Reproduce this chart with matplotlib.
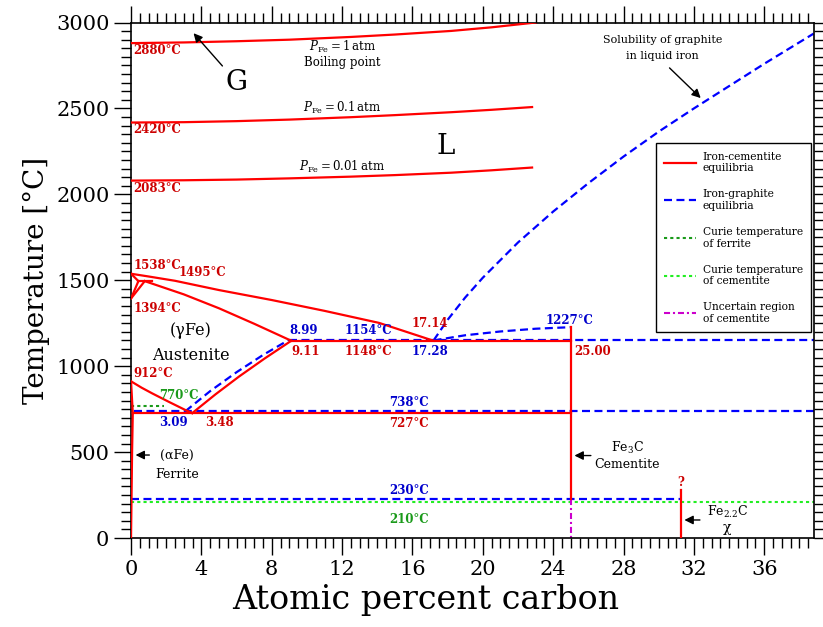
import numpy as np
import matplotlib.pyplot as plt
from matplotlib.ticker import MultipleLocator
from matplotlib.lines import Line2D

plt.rcParams['font.family'] = 'DejaVu Serif'
plt.rcParams['mathtext.fontset'] = 'dejavuserif'

RED = '#ff0000'
BLUE = '#0000ff'
DKRED = '#cc0000'
DKBLUE = '#0000cc'
GREEN = '#1a9a1a'
LIME = '#22ee22'
MAG = '#cc00cc'

# --- vapour pressure curves (at% C, deg C)
p1_x = [0, 3, 6, 9, 12.5, 15, 18.2, 20.5, 23]
p1_t = [2880, 2884, 2891, 2900, 2916, 2930, 2951, 2972, 3000]
p01_x = [0, 3, 6, 9, 12.5, 15, 18.2, 20.5, 22.8]
p01_t = [2418, 2420, 2426, 2435, 2449, 2461, 2478, 2492, 2508]
p001_x = [0, 3, 6, 9, 12.5, 15, 18.2, 20.5, 22.8]
p001_t = [2080, 2082, 2086, 2093, 2103, 2112, 2126, 2140, 2156]

# --- iron-cementite (metastable) system
liq_x = [0, 1.0, 2.5, 5.0, 8.0, 11.0, 14.1, 17.2]
liq_t = [1538, 1522, 1497, 1443, 1385, 1322, 1252, 1148]
sol_d_x = [0, 0.42]
sol_d_t = [1538, 1495]
delta_x = [0, 0.42]
delta_t = [1394, 1495]
gam_x = [0, 0.78]
gam_t = [1394, 1495]
peri_x = [0.42, 1.2]
peri_t = [1495, 1495]
sol_g_x = [0.78, 3.0, 5.0, 7.0, 9.11]
sol_g_t = [1495, 1418, 1337, 1247, 1148]
a3_x = [0, 0.6, 1.2, 2.14, 3.09, 3.48]
a3_t = [912, 875, 842, 793, 745, 727]
acm_x = [3.48, 4.8, 6.13, 7.6, 9.11]
acm_t = [727, 836, 939, 1045, 1148]
alpha_x = [0.1, 0.06, 0.03, 0]
alpha_t = [727, 500, 250, 0]
ag_x = [0, 0.1]
ag_t = [912, 727]
eut_x = [9.11, 25.0]
eut_t = [1148, 1148]
eutd_x = [0.1, 25.0]
eutd_t = [727, 727]
cem_x = [25.0, 25.0]
cem_t = [1227, 230]
chi_x = [31.25, 31.25]
chi_t = [0, 280]

# --- iron-graphite (stable) system
g_liq_x = [17.2, 18, 19, 20, 22, 24, 26, 28, 30, 32, 34, 36, 38.8]
g_liq_t = [1150, 1270, 1400, 1515, 1720, 1900, 2065, 2220, 2365, 2500, 2630, 2760, 2935]
fe3c_liq_x = [17.2, 19, 21, 23, 25.0]
fe3c_liq_t = [1150, 1180, 1202, 1218, 1227]
g_acm_x = [3.09, 4.5, 6.0, 7.5, 8.99]
g_acm_t = [738, 855, 965, 1065, 1154]
g_eut_x = [8.99, 38.8]
g_eut_t = [1154, 1154]
g_eutd_x = [0.15, 38.8]
g_eutd_t = [738, 738]
g_230_x = [0, 31.25]
g_230_t = [230, 230]

# --- magnetic transitions and uncertain region
curie_fe_x = [0, 1.9]
curie_fe_t = [770, 770]
curie_cem_x = [0, 38.8]
curie_cem_t = [210, 210]
unc_x = [25.0, 25.0]
unc_t = [230, 0]

fig = plt.figure(figsize=(8.23, 6.27), dpi=100)
ax = fig.add_axes([0.1592, 0.1419, 0.9885 - 0.1592, 0.9641 - 0.1419])

lw = 1.6
for xs, ts in [(p1_x, p1_t), (p01_x, p01_t), (p001_x, p001_t), (liq_x, liq_t),
               (sol_d_x, sol_d_t), (delta_x, delta_t), (gam_x, gam_t), (peri_x, peri_t),
               (sol_g_x, sol_g_t), (a3_x, a3_t), (acm_x, acm_t), (alpha_x, alpha_t),
               (ag_x, ag_t), (eut_x, eut_t), (eutd_x, eutd_t), (cem_x, cem_t), (chi_x, chi_t)]:
    ax.plot(xs, ts, color=RED, lw=lw, zorder=3)

dash = (0, (3.6, 2))
dot = (0, (1.5, 1.5))
dashdot = (0, (2.9, 1.4, 1, 1.4))
for xs, ts in [(g_liq_x, g_liq_t), (fe3c_liq_x, fe3c_liq_t), (g_acm_x, g_acm_t),
               (g_eut_x, g_eut_t), (g_eutd_x, g_eutd_t), (g_230_x, g_230_t)]:
    ax.plot(xs, ts, color=BLUE, lw=lw, ls=dash, zorder=2)

ax.plot(curie_fe_x, curie_fe_t, color=GREEN, lw=1.5, ls=dot, zorder=2)
ax.plot(curie_cem_x, curie_cem_t, color=LIME, lw=1.5, ls=dot, zorder=2)
ax.plot(unc_x, unc_t, color=MAG, lw=1.5, ls=dashdot, zorder=2)

ax.set_xlim(0, 38.8)
ax.set_ylim(0, 3000)
ax.xaxis.set_major_locator(MultipleLocator(4))
ax.xaxis.set_minor_locator(MultipleLocator(0.5))
ax.yaxis.set_major_locator(MultipleLocator(500))
ax.yaxis.set_minor_locator(MultipleLocator(50))
ax.tick_params(which='both', direction='out', top=True, right=True, labelsize=15, width=1)
ax.tick_params(which='major', length=12)
ax.tick_params(which='minor', length=7.5)
for s in ax.spines.values():
    s.set_linewidth(1.2)
ax.set_xlabel('Atomic percent carbon', fontsize=24, x=0.431, labelpad=4)
ax.set_ylabel('Temperature [°C]', fontsize=20)

# temperature / composition labels
small = dict(fontsize=8.5, fontweight='bold')
def lab(x, y, s, c, **kw):
    ax.text(x, y, s, color=c, va='center', **small, **kw)

lab(0.15, 2835, '2880°C', DKRED)
lab(0.15, 2375, '2420°C', DKRED)
lab(0.15, 2035, '2083°C', DKRED)
lab(0.15, 1585, '1538°C', DKRED)
lab(2.7, 1545, '1495°C', DKRED)
lab(0.15, 1335, '1394°C', DKRED)
lab(0.15, 955, '912°C', DKRED)
lab(1.6, 830, '770°C', GREEN)
lab(1.6, 670, '3.09', DKBLUE)
lab(4.2, 670, '3.48', DKRED)
lab(9.0, 1205, '8.99', DKBLUE)
lab(13.5, 1205, '1154°C', DKBLUE, ha='center')
lab(9.1, 1088, '9.11', DKRED)
lab(13.5, 1088, '1148°C', DKRED, ha='center')
lab(17.0, 1250, '17.14', DKRED, ha='center')
lab(17.0, 1088, '17.28', DKBLUE, ha='center')
lab(24.9, 1268, '1227°C', DKBLUE, ha='center')
lab(25.2, 1088, '25.00', DKRED)
lab(15.8, 786, '738°C', DKBLUE, ha='center')
lab(15.8, 669, '727°C', DKRED, ha='center')
lab(15.8, 275, '230°C', DKBLUE, ha='center')
lab(15.8, 110, '210°C', GREEN, ha='center')
ax.text(31.25, 326, '?', color=DKRED, fontsize=8.5, fontweight='bold', ha='center', va='center')

# phase labels
ax.text(3.4, 1210, '(γFe)', fontsize=11.5, ha='center', va='center')
ax.text(3.4, 1065, 'Austenite', fontsize=11.5, ha='center', va='center')
ax.text(2.6, 483, '(αFe)', fontsize=9, ha='center', va='center')
ax.text(2.6, 372, 'Ferrite', fontsize=9, ha='center', va='center')
ax.annotate('', xy=(0.1, 483), xytext=(1.2, 483),
            arrowprops=dict(arrowstyle='-|>', color='k', lw=1, mutation_scale=13))
ax.text(28.2, 524, 'Fe$_3$C', fontsize=9, ha='center', va='center')
ax.text(28.2, 425, 'Cementite', fontsize=9, ha='center', va='center')
ax.annotate('', xy=(25.05, 480), xytext=(26.3, 480),
            arrowprops=dict(arrowstyle='-|>', color='k', lw=1, mutation_scale=13))
ax.text(33.9, 151, 'Fe$_{2.2}$C', fontsize=9, ha='center', va='center')
ax.text(33.9, 58, 'χ', fontsize=10, ha='center', va='center')
ax.annotate('', xy=(31.3, 105), xytext=(32.5, 105),
            arrowprops=dict(arrowstyle='-|>', color='k', lw=1, mutation_scale=13))

ax.text(6.0, 2650, 'G', fontsize=20, ha='center', va='center')
ax.annotate('', xy=(3.45, 2950), xytext=(5.3, 2735),
            arrowprops=dict(arrowstyle='-|>', color='k', lw=1, mutation_scale=13))
ax.text(17.9, 2280, 'L', fontsize=20, ha='center', va='center')
ax.text(12.0, 2860, r'$P_{\mathrm{Fe}} = 1\,\mathrm{atm}$', fontsize=8.5, ha='center', va='center')
ax.text(12.0, 2765, 'Boiling point', fontsize=8.5, ha='center', va='center')
ax.text(12.0, 2500, r'$P_{\mathrm{Fe}} = 0.1\,\mathrm{atm}$', fontsize=8.5, ha='center', va='center')
ax.text(12.0, 2160, r'$P_{\mathrm{Fe}} = 0.01\,\mathrm{atm}$', fontsize=8.5, ha='center', va='center')
ax.text(30.2, 2898, 'Solubility of graphite', fontsize=8, ha='center', va='center')
ax.text(30.2, 2805, 'in liquid iron', fontsize=8, ha='center', va='center')
ax.annotate('', xy=(32.5, 2549), xytext=(30.5, 2747),
            arrowprops=dict(arrowstyle='-|>', color='k', lw=1, mutation_scale=13))

handles = [
    Line2D([], [], color=RED, lw=lw),
    Line2D([], [], color=BLUE, lw=lw, ls=dash),
    Line2D([], [], color=GREEN, lw=1.5, ls=dot),
    Line2D([], [], color=LIME, lw=1.5, ls=dot),
    Line2D([], [], color=MAG, lw=1.5, ls=dashdot),
]
labels = ['Iron-cementite\nequilibria', 'Iron-graphite\nequilibria',
          'Curie temperature\nof ferrite', 'Curie temperature\nof cementite',
          'Uncertain region\nof cementite']
leg = ax.legend(handles, labels, loc='upper right', bbox_to_anchor=(0.997, 0.766),
                borderaxespad=0, fontsize=7.7, frameon=True, fancybox=False,
                edgecolor='k', framealpha=1, handlelength=3.0, handletextpad=0.6,
                labelspacing=1.5, borderpad=0.8)
leg.get_frame().set_linewidth(1)

fig.savefig('out.png', dpi=100)
